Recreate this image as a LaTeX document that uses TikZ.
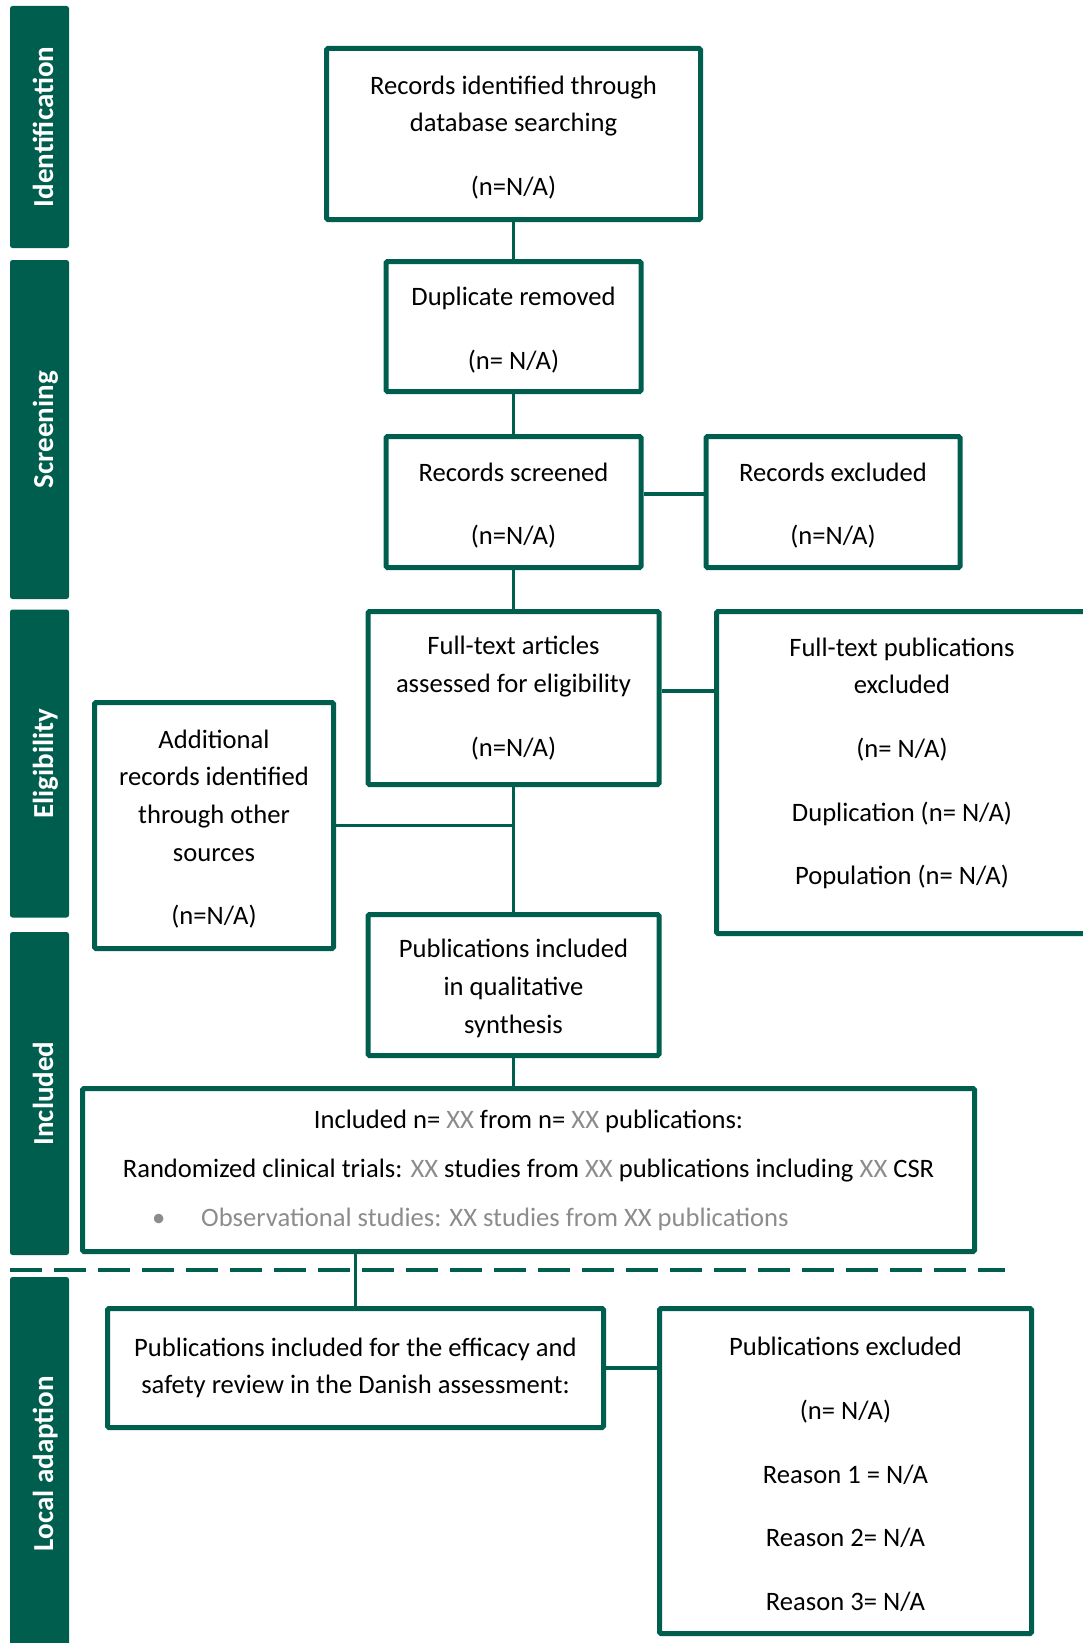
\documentclass[tikz,border=0pt]{standalone}
\usepackage{fontspec}
\setmainfont{Carlito}
\usetikzlibrary{positioning}

\definecolor{dkgreen}{RGB}{0,94,79}
\definecolor{xxgray}{RGB}{140,140,140}
\newcommand{\xx}{\textcolor{xxgray}{XX}}
\newcommand{\tp}{\rule{0pt}{25.5pt}}

\begin{document}
\begin{tikzpicture}[x=1pt, y=-1pt,
    box/.style={draw=dkgreen, line width=5pt, rounded corners=1.5pt, align=center,
      inner sep=0pt, font=\fontsize{26.6}{37.7}\selectfont},
    phase/.style={fill=dkgreen, rounded corners=2.5pt, rotate=90, minimum height=59pt,
      inner sep=0pt, text height=27pt, text depth=0pt, text=white,
      font=\bfseries\fontsize{29}{35}\selectfont},
    link/.style={draw=dkgreen, line width=3.5pt}]
  \useasboundingbox (0,0) rectangle (1083,1643);
  \clip (0,0) rectangle (1083,1643);

  % phases
  \node[phase, minimum width=242pt] (identification) at (39.5,127) {Identification};
  \node[phase, minimum width=339pt] (screening) at (39.5,429.5) {Screening};
  \node[phase, minimum width=308pt] (eligibility) at (39.5,763.5) {Eligibility};
  \node[phase, minimum width=323pt] (included) at (39.5,1093.5) {Included};
  \node[phase, minimum width=373pt] (localadapt) at (39.5,1463.5) {Local adaption};

  % main column
  \node[box, minimum width=374pt, minimum height=171pt] (recid) at (513.5,134)
    {\tp Records identified through\\database searching\\[26pt](n=N/A)};
  \node[box, minimum width=255pt, minimum height=130pt, below=37pt of recid] (dup)
    {\tp Duplicate removed\\[26pt](n= N/A)};
  \node[box, minimum width=255pt, minimum height=131pt, below=40pt of dup] (screen)
    {\tp Records screened\\[26pt](n=N/A)};
  \node[box, minimum width=254pt, minimum height=131pt, right=60pt of screen] (screxcl)
    {\tp Records excluded\\[26pt](n=N/A)};
  \node[box, minimum width=291pt, minimum height=173pt, below=39pt of screen] (fulltext)
    {Full-text articles\\assessed for eligibility\\[26pt](n=N/A)};
  \node[box, minimum width=371pt, minimum height=322pt] (ftexcl) at (902,772.5)
    {\tp Full-text publications\\excluded\\[26pt](n= N/A)\\[26pt]Duplication (n= N/A)\\[26pt]Population (n= N/A)\\[-8pt]\mbox{}};
  \node[box, minimum width=239pt, minimum height=246pt] (addrec) at (214,825.5)
    {\tp Additional\\records identified\\through other\\sources\\[26pt](n=N/A)};
  \node[box, minimum width=291pt, minimum height=141pt, below=125pt of fulltext] (qual)
    {\tp Publications included\\in qualitative\\synthesis};
  \node[box, minimum width=892pt, minimum height=163pt] (incl) at (528.5,1170)
    {Included n= \xx{} from n= \xx{} publications:\\[11.3pt]
     Randomized clinical trials: \xx{} studies from \xx{} publications including \xx{} CSR\\[11.3pt]
     \makebox[813pt][l]{\color{xxgray}\hspace{30pt}•\hspace{36pt}Observational studies: XX studies from XX publications}};

  % local adaption
  \node[box, minimum width=496pt, minimum height=119pt] (danish) at (355.5,1368)
    {Publications included for the efficacy and\\safety review in the Danish assessment:};
  \node[box, minimum width=372pt, minimum height=325pt] (pubexcl) at (845.5,1471)
    {\tp Publications excluded\\[26pt](n= N/A)\\[26pt]Reason 1 = N/A\\[26pt]Reason 2= N/A\\[26pt]Reason 3= N/A};

  \coordinate (sepL) at (10,1270);
  \coordinate (sepR) at (1005,1270);
  \draw[link, dash pattern=on 32pt off 12pt] (sepL) -- (sepR);

  % connectors
  \draw[link] (recid) -- (dup);
  \draw[link] (dup) -- (screen);
  \draw[link] ([yshift=8pt]screen.east) -- ([yshift=8pt]screxcl.west);
  \draw[link] (screen) -- (fulltext);
  \draw[link] ([yshift=7pt]fulltext.east) -- ([yshift=7pt]fulltext.east -| ftexcl.west);
  \draw[link] (fulltext) -- (qual);
  \draw[link] (addrec.east) -- (addrec.east -| qual.north);
  \draw[link] (qual.south) -- (qual.south |- incl.north);
  \draw[link] (danish.north) -- (danish.north |- incl.south);
  \draw[link] (danish.east) -- (danish.east -| pubexcl.west);
\end{tikzpicture}
\end{document}
